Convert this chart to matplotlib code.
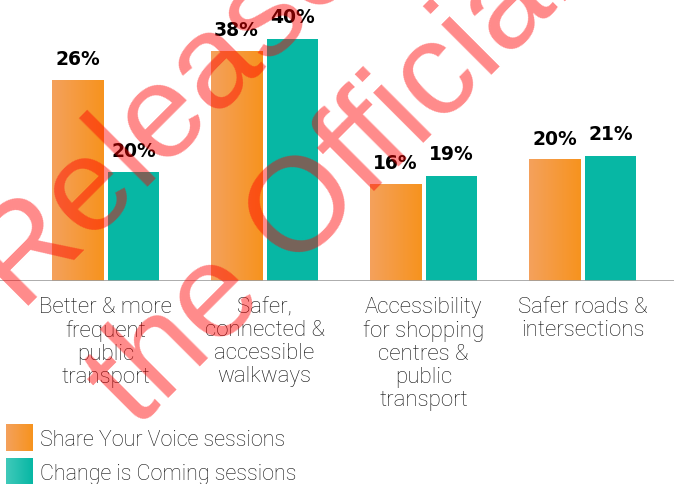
import numpy as np
import matplotlib.pyplot as plt
from matplotlib.colors import LinearSegmentedColormap

# data (bar heights as drawn, labels as printed)
categories = ['Better & more\nfrequent\npublic\ntransport',
              'Safer,\nconnected &\naccessible\nwalkways',
              'Accessibility\nfor shopping\ncentres &\npublic\ntransport',
              'Safer roads &\nintersections']
series_names = ['Share Your Voice sessions', 'Change is Coming sessions']
share_voice = [33.1, 38.0, 16.0, 20.0]
change_coming = [18.0, 40.0, 17.4, 20.7]
share_voice_labels = ['26%', '38%', '16%', '20%']
change_coming_labels = ['20%', '40%', '19%', '21%']

orange_cmap = LinearSegmentedColormap.from_list('o', ['#F4A15C', '#F7931E'])
teal_cmap = LinearSegmentedColormap.from_list('t', ['#40C9BA', '#07B7A4'])
teal = '#07B7A4'

fig = plt.figure(figsize=(6.74, 4.85), dpi=100)
ax = fig.add_axes([0, 203/485, 1, 282/485])

x = np.arange(len(categories))
w = 0.3208
off = 0.176

b1 = ax.bar(x - off, share_voice, w, color='none', zorder=2)
b2 = ax.bar(x + off, change_coming, w, color=teal, zorder=2)

grad = np.linspace(0, 1, 64).reshape(1, -1)
for p in b1:
    ax.imshow(grad, cmap=orange_cmap, aspect='auto', zorder=2,
              extent=[p.get_x(), p.get_x() + p.get_width(), 0, p.get_height()])

lab_font = dict(fontsize=13.5, fontweight='bold', color='black', family='DejaVu Sans')
for bars, labs in [(b1, share_voice_labels), (b2, change_coming_labels)]:
    for p, t in zip(bars, labs):
        ax.annotate(t, (p.get_x() + p.get_width() / 2, p.get_height()),
                    xytext=(0, 15.8), textcoords='offset points',
                    ha='center', va='center', **lab_font)

for i, c in enumerate(categories):
    ax.annotate(c, (i, 0), xytext=(0, -11), textcoords='offset points',
                ha='center', va='top', fontsize=16, color='#111111',
                family='Roboto', fontweight='light', linespacing=1.12)

ax.axhline(0, color='#9E9E9E', lw=1.2, zorder=3)
ax.set_xlim(-0.6635, 3.575)
ax.set_ylim(0, 46.6)
ax.axis('off')

# legend drawn by hand (gradient swatches)
for k, (name, cm) in enumerate(zip(series_names, [orange_cmap, teal_cmap])):
    top = 425 + 34 * k
    sw = fig.add_axes([6/674, 1 - (top + 27)/485, 27/674, 27/485])
    sw.imshow(grad, cmap=cm, aspect='auto')
    sw.axis('off')
    fig.text(40/674, 1 - (top + 16)/485, name, ha='left', va='center',
             fontsize=15.5, color='#111111', family='Roboto', fontweight='light')

# watermark
wm = dict(rotation=45, rotation_mode='anchor', ha='left', va='baseline',
          fontsize=96, color='red', alpha=0.46, zorder=10, family='Liberation Sans')
fig.text(21/674, 1 - 313/485, 'Released under', **wm)
fig.text(136/674, 1 - 430/485, 'the Official Information Act', **wm)

fig.savefig('out.png', dpi=100)
